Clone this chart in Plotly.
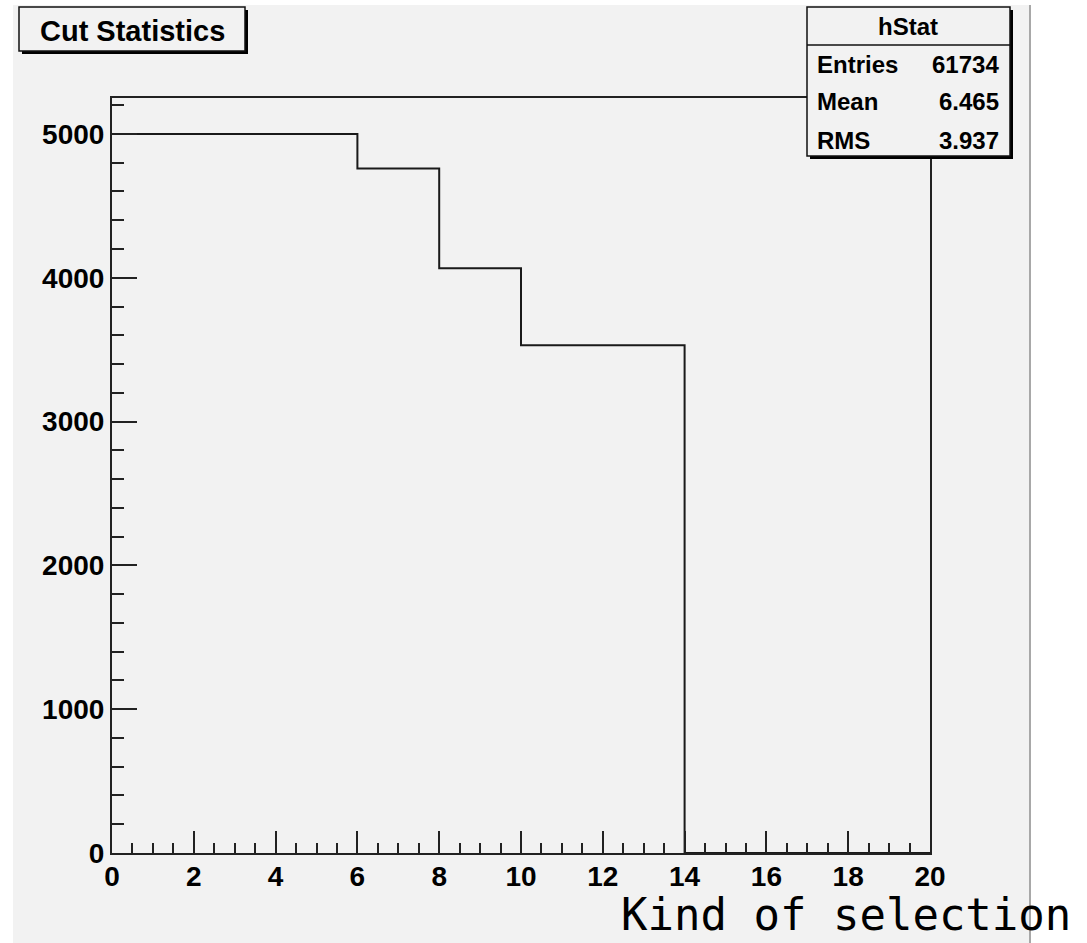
import plotly.graph_objects as go

# ---- data ----
bin_edges = list(range(0, 21))
bin_counts = [5000, 5000, 5000, 5000, 5000, 5000,
              4760, 4760,
              4066, 4066,
              3530, 3530, 3530, 3530,
              0, 0, 0, 0, 0, 0, 0]
x_ticks = [0, 2, 4, 6, 8, 10, 12, 14, 16, 18, 20]
y_ticks = [0, 1000, 2000, 3000, 4000, 5000]
stat_names = ["Entries", "Mean", "RMS"]
stat_values = ["61734", "6.465", "3.937"]
title_text = "Cut Statistics"
stat_title = "hStat"
x_title = "Kind of selection"

W, H = 1087, 943
L, R, T, B = 112, 930, 98, 853

def px(x):
    return (x - L) / (R - L)

def py(y):
    return (B - y) / (B - T)

SANS = "Liberation Sans Narrow, Liberation Sans, Arial"
TICKFONT = dict(family=SANS, size=28, color="#000", weight="bold")
BOXFONT = dict(family=SANS, size=24, color="#000", weight="bold")
CANVAS = "#f2f2f2"

fig = go.Figure()
fig.add_trace(go.Scatter(
    x=bin_edges, y=bin_counts,
    mode="lines", line=dict(shape="hv", color="#1a1a1a", width=2),
    hoverinfo="skip", showlegend=False, cliponaxis=False))

shapes = []
# canvas
shapes.append(dict(type="rect", xref="paper", yref="paper", layer="below",
                   x0=px(13), x1=px(1029), y0=py(5), y1=py(H + 5),
                   fillcolor=CANVAS, line=dict(width=0)))
shapes.append(dict(type="line", xref="paper", yref="paper", layer="below",
                   x0=px(1030), x1=px(1030), y0=py(5), y1=py(H + 5),
                   line=dict(color="#a8a8a8", width=2)))

def box(x0, y0, x1, y1):
    # shadow
    shapes.append(dict(type="rect", xref="paper", yref="paper", layer="above",
                       x0=px(x0 + 3), x1=px(x1 + 3), y0=py(y1 + 3), y1=py(y0 + 3),
                       fillcolor="#000", line=dict(width=0)))
    shapes.append(dict(type="rect", xref="paper", yref="paper", layer="above",
                       x0=px(x0), x1=px(x1), y0=py(y1), y1=py(y0),
                       fillcolor=CANVAS, line=dict(color="#111", width=1.5)))

box(19, 7, 245, 51)
box(807, 7, 1010, 156)
shapes.append(dict(type="line", xref="paper", yref="paper", layer="above",
                   x0=px(807), x1=px(1010), y0=py(45), y1=py(45),
                   line=dict(color="#111", width=1.5)))

annotations = []
annotations.append(dict(xref="paper", yref="paper", x=px(132), y=py(31),
                        text=title_text, showarrow=False, xanchor="center", yanchor="middle",
                        font=dict(family=SANS, size=29, color="#000", weight="bold")))
annotations.append(dict(xref="paper", yref="paper", x=px(908), y=py(27),
                        text=stat_title, showarrow=False, xanchor="center", yanchor="middle",
                        font=BOXFONT))
rows_y = [64, 102, 140]
for name, val, yy in zip(stat_names, stat_values, rows_y):
    annotations.append(dict(xref="paper", yref="paper", x=px(815), y=py(yy),
                            text=name, showarrow=False, xanchor="left", yanchor="middle",
                            font=BOXFONT))
    annotations.append(dict(xref="paper", yref="paper", x=px(1001), y=py(yy),
                            text=val, showarrow=False, xanchor="right", yanchor="middle",
                            font=BOXFONT))
annotations.append(dict(xref="paper", yref="paper", x=px(1073), y=py(914),
                        text=x_title, showarrow=False, xanchor="right", yanchor="middle",
                        font=dict(family="DejaVu Sans Mono", size=44, color="#000")))

axis_common = dict(showgrid=False, zeroline=False, showline=True, mirror=True,
                   linecolor="#222", linewidth=2, ticks="inside", tickcolor="#222",
                   tickwidth=2, tickfont=TICKFONT)

fig.update_layout(
    width=W, height=H,
    margin=dict(l=L, r=W - R, t=T, b=H - B),
    paper_bgcolor="white", plot_bgcolor=CANVAS,
    xaxis=dict(range=[0, 20], tickvals=x_ticks, ticklen=22, ticklabelstandoff=-3,
               minor=dict(dtick=0.5, ticklen=10, ticks="inside", tickcolor="#222", tickwidth=2),
               **axis_common),
    yaxis=dict(range=[0, 5250], tickvals=y_ticks, ticklen=25,
               minor=dict(dtick=200, ticklen=12, ticks="inside", tickcolor="#222", tickwidth=2),
               **axis_common),
    shapes=shapes, annotations=annotations,
)

fig.write_html("out.html")
